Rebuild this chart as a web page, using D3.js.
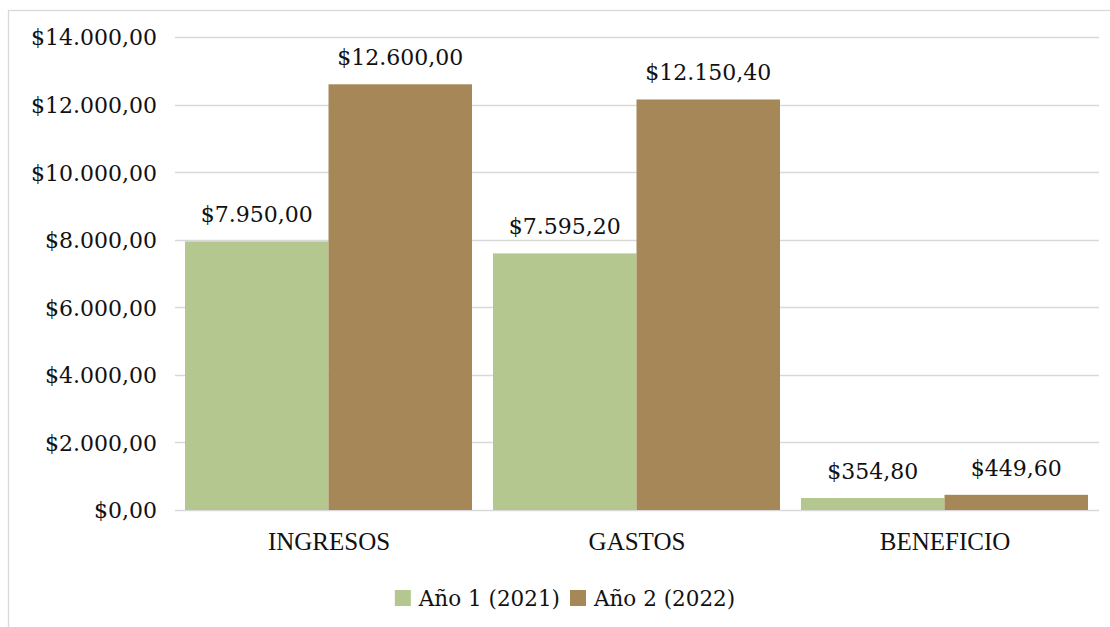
<!DOCTYPE html>
<html>
<head>
<meta charset="utf-8">
<script src="https://cdn.jsdelivr.net/npm/d3@7"></script>
<style>
  html, body { margin: 0; padding: 0; background: #fff; }
  svg { display: block; }
</style>
</head>
<body>
<svg id="chart" width="1110" height="627"></svg>
<script>
const categories = ["INGRESOS", "GASTOS", "BENEFICIO"];
const seriesNames = ["Año 1 (2021)", "Año 2 (2022)"];
const anio1 = [7950, 7595.2, 354.8];
const anio2 = [12600, 12150.4, 449.6];
const yTicks = [0, 2000, 4000, 6000, 8000, 10000, 12000, 14000];
const colors = ["#b3c78e", "#a68758"];

const locale = d3.formatLocale({decimal: ",", thousands: ".", grouping: [3], currency: ["$", ""]});
const fmt = locale.format("$,.2f");

const svg = d3.select("#chart");
const numFont = "'DejaVu Serif', Georgia, serif";
const catFont = "'Liberation Serif', 'Times New Roman', serif";

// chart border
svg.append("rect").attr("x", 8.5).attr("y", 10.5).attr("width", 1130).attr("height", 640)
  .attr("fill", "#fff").attr("stroke", "#d9d9d9").attr("stroke-width", 1.3);

const y = d3.scaleLinear().domain([0, 14000]).range([510, 37]);
const x0 = d3.scaleBand().domain(categories).range([175, 1099]).padding(0);
const x1 = d3.scaleBand().domain(seriesNames).range([10, x0.bandwidth() - 11]).padding(0);

// gridlines
svg.append("g").selectAll("line").data(yTicks).join("line")
  .attr("x1", 175).attr("x2", 1099)
  .attr("y1", d => Math.round(y(d)) + 0.5).attr("y2", d => Math.round(y(d)) + 0.5)
  .attr("stroke", "#d9d9d9").attr("stroke-width", 1.4);

// y tick labels
svg.append("g").selectAll("text").data(yTicks).join("text")
  .attr("x", 157).attr("y", d => y(d)).attr("dy", "0.38em")
  .attr("text-anchor", "end")
  .attr("font-family", numFont).attr("font-size", 22).attr("fill", "#111")
  .text(d => fmt(d));

const data = categories.map((c, i) => ({cat: c, vals: [anio1[i], anio2[i]]}));

const groups = svg.append("g").selectAll("g").data(data).join("g")
  .attr("transform", d => `translate(${x0(d.cat)},0)`);

groups.selectAll("rect").data(d => d.vals.map((v, j) => ({name: seriesNames[j], v, j})))
  .join("rect")
  .attr("x", d => x1(d.name)).attr("width", x1.bandwidth())
  .attr("y", d => y(d.v)).attr("height", d => y(0) - y(d.v))
  .attr("fill", d => colors[d.j]);

groups.selectAll("text.val").data(d => d.vals.map((v, j) => ({name: seriesNames[j], v, j})))
  .join("text").attr("class", "val")
  .attr("x", d => x1(d.name) + x1.bandwidth() / 2)
  .attr("y", d => y(d.v) - 19)
  .attr("text-anchor", "middle")
  .attr("font-family", numFont).attr("font-size", 22).attr("fill", "#111")
  .text(d => fmt(d.v));

// category labels
svg.append("g").selectAll("text").data(categories).join("text")
  .attr("x", d => x0(d) + x0.bandwidth() / 2)
  .attr("y", 550)
  .attr("text-anchor", "middle")
  .attr("font-family", catFont).attr("font-size", 25).attr("fill", "#111")
  .text(d => d);

// legend
const legend = svg.append("g");
let cx = 0;
seriesNames.forEach((n, i) => {
  const g = legend.append("g").attr("transform", `translate(${cx},0)`);
  g.append("rect").attr("x", 0).attr("y", 590).attr("width", 16).attr("height", 16).attr("fill", colors[i]);
  const t = g.append("text").attr("x", 24).attr("y", 606)
    .attr("font-family", numFont).attr("font-size", 21.5).attr("fill", "#111").text(n);
  const w = t.node().getComputedTextLength();
  cx += 24 + w + 10;
});
const totalW = cx - 10;
legend.attr("transform", `translate(${565 - totalW / 2},0)`);
</script>
</body>
</html>
